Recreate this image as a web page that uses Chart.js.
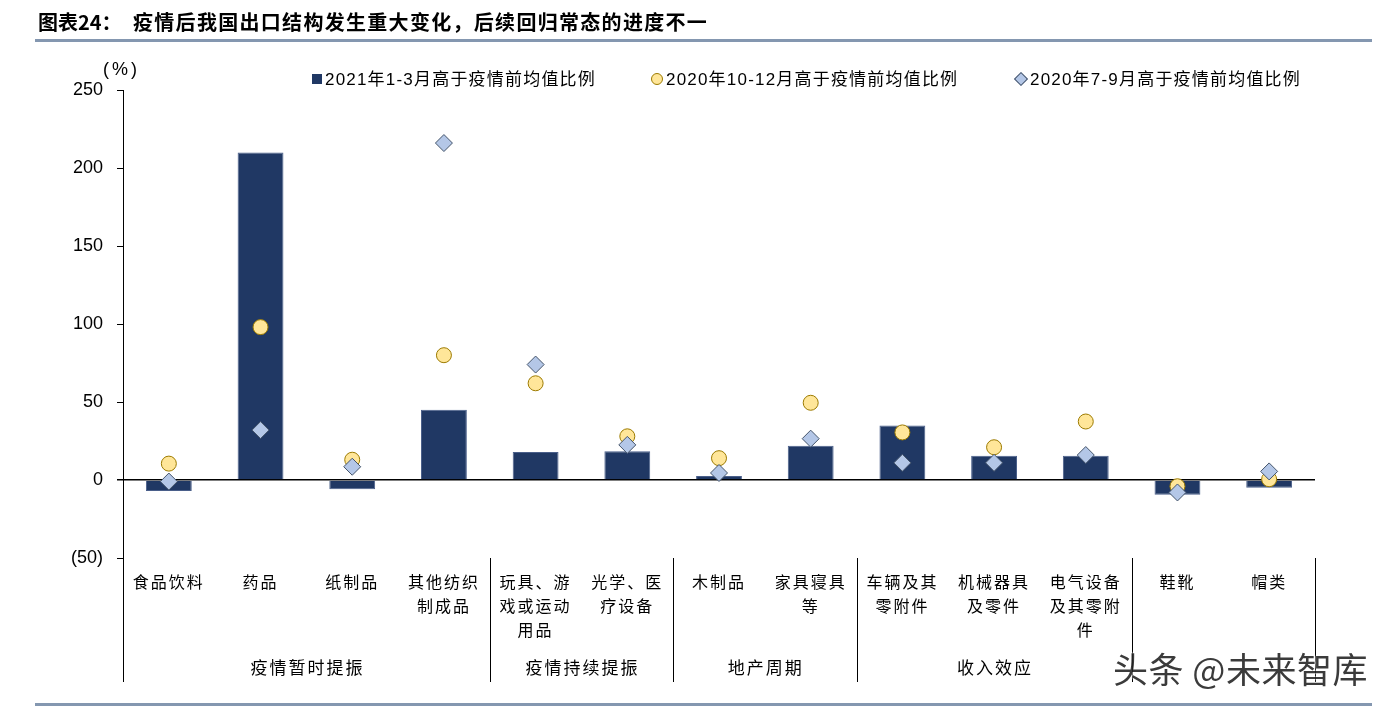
<!DOCTYPE html>
<html>
<head>
<meta charset="utf-8">
<script src="https://cdn.jsdelivr.net/npm/chart.js@4.4.1/dist/chart.umd.min.js"></script>
<style>
  html, body { margin:0; padding:0; background:#fff; }
  body { width:1389px; height:706px; position:relative; overflow:hidden; font-family:"Liberation Sans","Noto Sans CJK SC",sans-serif; }
  #wrap { position:absolute; left:0; top:0; width:1389px; height:706px; }
  .title { position:absolute; top:9px; left:38px; font-family:"Noto Sans CJK SC",sans-serif; font-weight:bold; font-size:20px; line-height:26px; color:#000; white-space:nowrap; }
  .title .t2 { position:absolute; left:95px; top:0; letter-spacing:1.3px; }
  .rule { position:absolute; left:35px; width:1337px; height:3px; background:#8497b0; }
  .unit { position:absolute; left:103px; top:58px; font-family:"Liberation Sans",sans-serif; font-size:18px; line-height:22px; color:#000; letter-spacing:3px; }
  .leg { position:absolute; top:69px; font-size:17px; color:#000; white-space:nowrap; font-family:"Liberation Sans","Noto Sans CJK SC",sans-serif; line-height:22px; letter-spacing:1.2px; }
  .sw { display:inline-block; vertical-align:middle; margin-right:3px; position:relative; top:-2px; }
  .sq { width:10px; height:10px; background:#203864; }
  .ci { width:10px; height:10px; border-radius:50%; background:#ffe699; border:1px solid #9c7a00; }
  .di { width:8px; height:8px; background:#b4c7e7; border:1px solid #44546a; transform:rotate(45deg); margin-right:4px; margin-left:2px; }
  .wm { position:absolute; left:1113px; top:642px; font-family:"Noto Sans CJK SC",sans-serif; font-size:35px; color:#262626; white-space:nowrap; text-shadow:0 0 2px #fff,0 0 2px #fff; opacity:0.9; letter-spacing:0.5px; }
</style>
</head>
<body>
<div id="wrap"><canvas id="c" width="1389" height="706"></canvas></div>
<div class="title">图表24：<span class="t2">疫情后我国出口结构发生重大变化，后续回归常态的进度不一</span></div>
<div class="rule" style="top:39px"></div>
<div class="rule" style="top:703px"></div>
<div class="unit">(%)</div>
<div class="leg" style="left:312px"><span class="sw sq"></span>2021年1-3月高于疫情前均值比例</div>
<div class="leg" style="left:651px"><span class="sw ci"></span>2020年10-12月高于疫情前均值比例</div>
<div class="leg" style="left:1014px"><span class="sw di"></span>2020年7-9月高于疫情前均值比例</div>
<div class="wm">头条 @未来智库</div>
<script>
// ---- data ----
const categories = [
  ['食品饮料'], ['药品'], ['纸制品'], ['其他纺织', '制成品'],
  ['玩具、游', '戏或运动', '用品'], ['光学、医', '疗设备'],
  ['木制品'], ['家具寝具', '等'],
  ['车辆及其', '零附件'], ['机械器具', '及零件'], ['电气设备', '及其零附', '件'],
  ['鞋靴'], ['帽类']
];
const seriesNames = ['2021年1-3月高于疫情前均值比例', '2020年10-12月高于疫情前均值比例', '2020年7-9月高于疫情前均值比例'];
const q1_2021 = [-7, 210, -6, 45, 18, 18.5, 2.5, 22, 35, 15.5, 15.5, -9.5, -5];
const q4_2020 = [10.5, 98, 13, 80, 62, 28, 14, 49.5, 30.5, 21, 37.5, -4, 0.5];
const q3_2020 = [-1, 32, 8.5, 216, 74, 22.5, 4.5, 26.5, 11, 11, 16, -8, 5.5];
const yTicks = [-50, 0, 50, 100, 150, 200, 250];
const groupNames = ['疫情暂时提振', '疫情持续提振', '地产周期', '收入效应', ''];
const groupEnds = [3, 5, 7, 10, 12];

const spacingPlugin = {
  id: 'spacing',
  beforeDraw(chart) { chart.ctx.letterSpacing = '2px'; },
  beforeDatasetsDraw(chart) { chart.ctx.letterSpacing = '0px'; }
};

const groupPlugin = {
  id: 'groups',
  afterDraw(chart) {
    const { ctx, chartArea, scales: { x } } = chart;
    const bottom = 682;
    const step = x.getPixelForValue(1) - x.getPixelForValue(0);
    const edge = i => x.getPixelForValue(i) + step / 2;
    ctx.save();
    ctx.strokeStyle = '#000';
    ctx.lineWidth = 1;
    const vline = (px) => {
      const xx = Math.round(px) + 0.5;
      ctx.beginPath(); ctx.moveTo(xx, chartArea.bottom); ctx.lineTo(xx, bottom); ctx.stroke();
    };
    vline(chartArea.left - 0.5);
    ctx.font = '17px "Noto Sans CJK SC", sans-serif';
    ctx.letterSpacing = '2px';
    ctx.fillStyle = '#000';
    ctx.textAlign = 'center';
    ctx.textBaseline = 'middle';
    let start = chartArea.left;
    groupEnds.forEach((e, gi) => {
      const end = edge(e);
      vline(end);
      if (groupNames[gi]) ctx.fillText(groupNames[gi], (start + end) / 2 + 1, 668);
      start = end;
    });
    ctx.restore();
  }
};

new Chart(document.getElementById('c'), {
  data: {
    labels: categories,
    datasets: [
      {
        type: 'line', label: seriesNames[2], data: q3_2020, showLine: false, order: 1,
        pointStyle: 'rectRot', pointRadius: 8.5, pointHoverRadius: 8.5,
        backgroundColor: '#b4c7e7', borderColor: '#44546a', borderWidth: 1
      },
      {
        type: 'line', label: seriesNames[1], data: q4_2020, showLine: false, order: 2,
        pointStyle: 'circle', pointRadius: 7.5, pointHoverRadius: 7.5,
        backgroundColor: '#ffe699', borderColor: '#9c7a00', borderWidth: 1
      },
      {
        type: 'bar', label: seriesNames[0], data: q1_2021, order: 3,
        backgroundColor: '#203864', borderColor: '#4a5f8a', borderWidth: 1,
        barPercentage: 1, categoryPercentage: 0.5
      }
    ]
  },
  options: {
    responsive: false,
    animation: false,
    events: [],
    layout: { padding: { left: 0, right: 74, top: 90, bottom: 0 } },
    plugins: { legend: { display: false }, tooltip: { enabled: false } },
    scales: {
      x: {
        type: 'category',
        grid: { display: false },
        border: { display: false },
        ticks: {
          autoSkip: false, maxRotation: 0, minRotation: 0, padding: 4,
          color: '#000',
          font: { family: '"Noto Sans CJK SC", sans-serif', size: 16, lineHeight: 1.5 }
        },
        afterFit(s) { s.height = 706 - 558; }
      },
      y: {
        min: -50, max: 250,
        afterBuildTicks(s) { s.ticks = yTicks.map(v => ({ value: v })); },
        grid: {
          color: c => (c.tick && c.tick.value === 0) ? '#000' : 'rgba(0,0,0,0)',
          lineWidth: c => (c.tick && c.tick.value === 0) ? 1.5 : 1,
          tickColor: '#000', tickLength: 6, drawTicks: true
        },
        border: { display: true, color: '#000', width: 1 },
        ticks: {
          z: 1,
          padding: 14, color: '#000',
          font: { family: '"Liberation Sans", Arial, sans-serif', size: 18 },
          callback: v => v < 0 ? '(' + (-v) + ')' : String(v)
        },
        afterFit(s) { s.width = 123; }
      }
    }
  },
  plugins: [spacingPlugin, groupPlugin]
});
</script>
</body>
</html>
